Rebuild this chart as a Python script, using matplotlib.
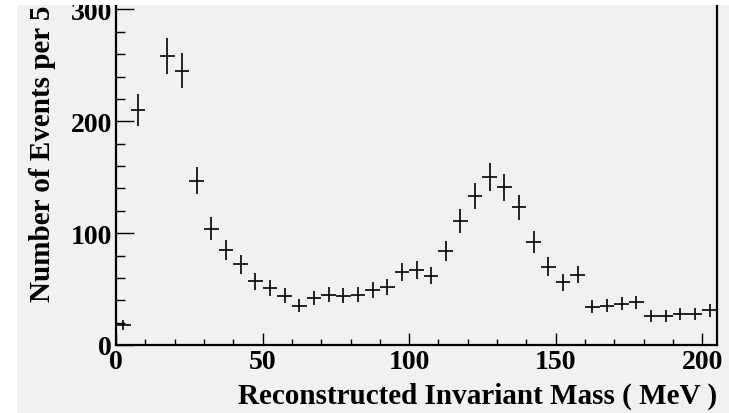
import numpy as np
import matplotlib
matplotlib.use("Agg")
import matplotlib.pyplot as plt
from matplotlib.patches import Rectangle
from matplotlib.ticker import MultipleLocator

# bin centres (5 MeV bins) and counts
mass = np.arange(2.5, 205, 5.0)
counts = [18, 210, 330, 258, 245, 147, 104, 85, 72, 57,
          51, 44, 35, 42, 45, 44, 45, 49, 52, 65,
          67, 62, 84, 111, 133, 150, 141, 123, 92, 70,
          56, 63, 34, 35, 37, 38, 26, 26, 28, 28,
          31]
xlabel = "Reconstructed Invariant Mass ( MeV )"
ylabel = "Number of Events per 5 MeV"

bg = "#f1f1f1"
font = "Liberation Serif"

fig = plt.figure(figsize=(7.29, 4.14), dpi=100)
fig.patch.set_facecolor(bg)
ax = fig.add_axes([116 / 729, 68 / 414, 601 / 729, 358 / 414])
ax.set_facecolor(bg)

counts = np.array(counts, dtype=float)
ax.errorbar(mass, counts, xerr=2.5, yerr=np.sqrt(counts), fmt="none",
            ecolor="black", elinewidth=1.2, capsize=0)

ax.set_xlim(0, 205)
ax.set_ylim(0, 320)
ax.xaxis.set_major_locator(MultipleLocator(50))
ax.xaxis.set_minor_locator(MultipleLocator(10))
ax.yaxis.set_major_locator(MultipleLocator(100))
ax.yaxis.set_minor_locator(MultipleLocator(20))

ax.tick_params(axis="x", which="major", direction="in", length=8.6, width=1, pad=3)
ax.tick_params(axis="x", which="minor", direction="in", length=4.3, width=1)
ax.tick_params(axis="y", which="major", direction="in", length=13, width=1, pad=3)
ax.tick_params(axis="y", which="minor", direction="in", length=6.5, width=1)
for lab in ax.get_xticklabels() + ax.get_yticklabels():
    lab.set_fontfamily(font)
    lab.set_fontweight("bold")
    lab.set_fontsize(20)

for s in ax.spines.values():
    s.set_linewidth(1.6)

fig.text(717 / 729, 10 / 414, xlabel, ha="right", va="baseline",
         fontfamily=font, fontweight="bold", fontsize=21)
fig.text(43 / 729, 112 / 414, ylabel, ha="center", va="bottom", rotation=90,
         fontfamily=font, fontweight="bold", fontsize=21)

# white margins at top and left of the original image
fig.patches.append(Rectangle((0, 1 - 6 / 414), 1, 6 / 414, transform=fig.transFigure,
                             facecolor="white", edgecolor="none", zorder=5))
fig.patches.append(Rectangle((0, 0), 17 / 729, 1, transform=fig.transFigure,
                             facecolor="white", edgecolor="none", zorder=5))

fig.savefig("out.png", dpi=100, facecolor=bg)
